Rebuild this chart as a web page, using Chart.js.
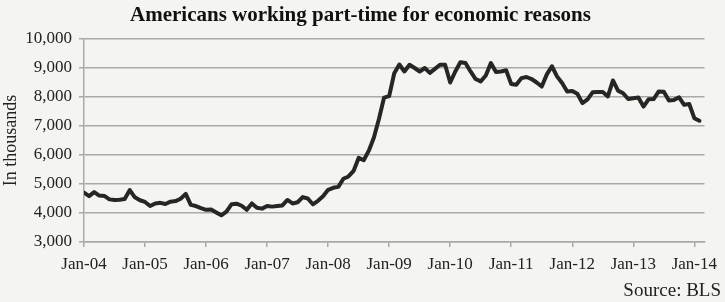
<!DOCTYPE html>
<html>
<head>
<meta charset="utf-8">
<script src="https://cdn.jsdelivr.net/npm/chart.js@4.4.1/dist/chart.umd.min.js"></script>
<style>
  body { margin: 0; background: #f4f4f0; }
  canvas { display: block; }
</style>
</head>
<body>
<canvas id="partTime" width="725" height="302"></canvas>
<script>
// Monthly values (thousands), Jan 2004 - Feb 2014
const y2004 = [4700, 4580, 4720, 4600, 4590, 4470, 4450, 4460, 4480, 4790, 4540, 4440];
const y2005 = [4380, 4240, 4330, 4350, 4310, 4390, 4410, 4490, 4660, 4280, 4240, 4170];
const y2006 = [4110, 4120, 4020, 3920, 4050, 4300, 4320, 4250, 4110, 4330, 4180, 4150];
const y2007 = [4240, 4220, 4240, 4260, 4450, 4330, 4370, 4550, 4500, 4300, 4420, 4580];
const y2008 = [4800, 4870, 4900, 5180, 5260, 5450, 5900, 5820, 6150, 6600, 7250, 7980];
const y2009 = [8030, 8820, 9120, 8880, 9110, 9000, 8880, 9000, 8830, 8970, 9110, 9110];
const y2010 = [8500, 8880, 9200, 9170, 8880, 8620, 8540, 8740, 9170, 8860, 8880, 8920];
const y2011 = [8450, 8420, 8650, 8690, 8620, 8500, 8360, 8780, 9060, 8710, 8480, 8190];
const y2012 = [8210, 8110, 7790, 7920, 8160, 8170, 8170, 8020, 8570, 8220, 8130, 7930];
const y2013 = [7960, 7980, 7670, 7920, 7930, 8190, 8180, 7880, 7900, 7990, 7730, 7760];
const y2014 = [7270, 7180];

const tickLabels = ['Jan-04', 'Jan-05', 'Jan-06', 'Jan-07', 'Jan-08', 'Jan-09',
                    'Jan-10', 'Jan-11', 'Jan-12', 'Jan-13', 'Jan-14'];

const values = [].concat(y2004, y2005, y2006, y2007, y2008, y2009,
                         y2010, y2011, y2012, y2013, y2014);
const points = values.map((v, i) => ({ x: i, y: v }));

const serif = 'Liberation Serif';
const gridGray = '#a9a9a9';

const background = {
    id: 'background',
    beforeDraw(chart) {
        const ctx = chart.ctx;
        ctx.save();
        ctx.fillStyle = '#f4f4f0';
        ctx.fillRect(0, 0, chart.width, chart.height);
        ctx.restore();
    }
};

new Chart(document.getElementById('partTime'), {
    type: 'line',
    data: {
        datasets: [{
            data: points,
            borderColor: '#262626',
            borderWidth: 4,
            pointRadius: 0,
            tension: 0,
            borderJoinStyle: 'round',
            borderCapStyle: 'round'
        }]
    },
    options: {
        responsive: false,
        animation: false,
        layout: { padding: { left: 0, right: 4, top: 0, bottom: 0 } },
        plugins: {
            legend: { display: false },
            tooltip: { enabled: false },
            title: {
                display: true,
                text: 'Americans working part-time for economic reasons',
                color: '#111',
                font: { family: serif, size: 21, weight: 'bold' },
                padding: { top: 3, bottom: 10.8 }
            },
            subtitle: {
                display: true,
                position: 'bottom',
                align: 'end',
                text: 'Source: BLS',
                color: '#222',
                font: { family: serif, size: 19 },
                padding: { top: 3, bottom: 0 }
            }
        },
        scales: {
            x: {
                type: 'linear',
                min: 0,
                max: 122,
                grid: {
                    drawOnChartArea: false,
                    color: gridGray,
                    lineWidth: 1.5,
                    tickLength: 5
                },
                border: { display: true, color: gridGray, width: 1.5 },
                ticks: {
                    stepSize: 12,
                    includeBounds: false,
                    autoSkip: false,
                    maxRotation: 0,
                    padding: 7,
                    color: '#222',
                    font: { family: serif, size: 17 },
                    callback: v => tickLabels[v / 12]
                },
                afterFit: s => { s.height = 34.2; }
            },
            y: {
                min: 3000,
                max: 10000,
                grid: {
                    color: gridGray,
                    lineWidth: 1.5,
                    tickLength: 5
                },
                border: { display: true, color: gridGray, width: 1.5 },
                ticks: {
                    stepSize: 1000,
                    padding: 7,
                    color: '#222',
                    font: { family: serif, size: 17 },
                    callback: v => v.toLocaleString('en-US')
                },
                title: {
                    display: true,
                    text: 'In thousands',
                    color: '#222',
                    font: { family: serif, size: 18 },
                    padding: { top: 0, bottom: 0 }
                },
                afterFit: s => { s.width = 84; }
            },
            spacer: {
                type: 'linear',
                position: 'right',
                grid: { display: false },
                border: { display: false },
                ticks: { display: false },
                afterFit: s => { s.width = 16.5; }
            }
        }
    },
    plugins: [background]
});
</script>
</body>
</html>
